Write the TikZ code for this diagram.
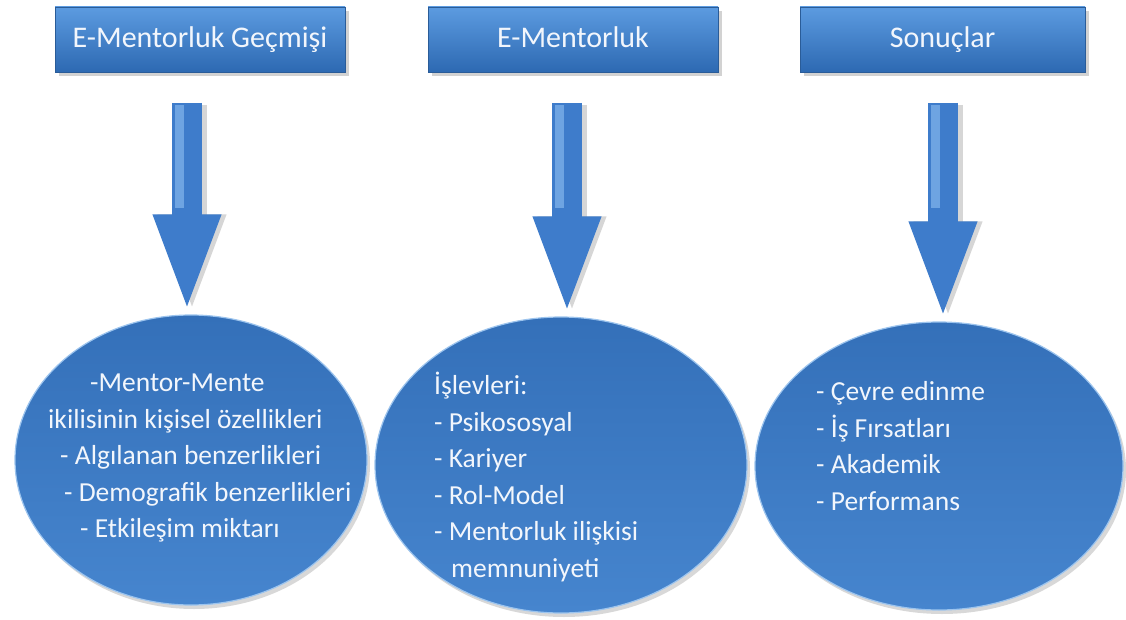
\documentclass[tikz,border=0pt]{standalone}
\usepackage{fontspec}
\setmainfont{Carlito}
\usetikzlibrary{arrows.meta,shadows,shapes.geometric,calc}
\definecolor{boxtop}{HTML}{5C9BE0}
\definecolor{boxbot}{HTML}{2D69B2}
\definecolor{boxline}{HTML}{2A5C98}
\definecolor{elltop}{HTML}{3470B9}
\definecolor{ellbot}{HTML}{4685CE}
\definecolor{ellrim}{HTML}{9CC4EE}
\definecolor{arrowblue}{HTML}{3E7CCB}
\definecolor{arrowlight}{HTML}{6EA4E2}
\definecolor{txt}{HTML}{F2F6FC}
\begin{document}
\begin{tikzpicture}[x=1pt,y=-1pt,
  headbox/.style={rectangle, minimum height=65pt, inner sep=0pt,
    text height=22pt, text depth=6pt,
    top color=boxtop, bottom color=boxbot, draw=boxline, line width=0.8pt,
    drop shadow={shadow xshift=4pt, shadow yshift=-4pt, opacity=0.35},
    text=txt, font=\fontsize{30}{34}\selectfont},
  bubble/.style={ellipse, inner sep=0pt,
    top color=elltop, bottom color=ellbot, draw=ellrim, line width=1.2pt,
    drop shadow={shadow xshift=3pt, shadow yshift=-4pt, opacity=0.3}},
  bubbletext/.style={text=txt, inner sep=0pt, align=left, anchor=west,
    font=\fontsize{27.5}{36.5}\selectfont},
  blockarrow/.style={draw=arrowblue, line width=30pt,
    -{Triangle[width=60pt,length=100pt]}},
  arrowshadow/.style={draw=black!45, opacity=0.35, line width=30pt,
    -{Triangle[width=60pt,length=100pt]}},
  arrowshine/.style={draw=arrowlight, line width=9pt, line cap=butt}
]
\useasboundingbox (0,0) rectangle (1126,620);
\fill[white] (0,0) rectangle (1126,620);

% headings
\node[headbox, minimum width=290pt] (b1) at (200,39.5) {E-Mentorluk Geçmişi};
\node[headbox, minimum width=290pt] (b2) at (573,39.5) {E-Mentorluk};
\node[headbox, minimum width=285pt] (b3) at (942.5,39.5) {Sonuçlar};

% bubbles
\node[bubble, minimum width=352pt, minimum height=290pt] (e1) at (191,460) {};
\node[bubble, minimum width=372pt, minimum height=296pt] (e2) at (561,465) {};
\node[bubble, minimum width=368pt, minimum height=288pt] (e3) at (939,466) {};

\node[bubbletext] (t1) at (48,458)
  {\hspace*{42pt}-Mentor-Mente\\
   ikilisinin kişisel özellikleri\\
   \hspace*{12pt}- Algılanan benzerlikleri\\
   \hspace*{16pt}- Demografik benzerlikleri\\
   \hspace*{32pt}- Etkileşim miktarı};
\node[bubbletext] (t2) at (434,477)
  {İşlevleri:\\- Psikososyal\\- Kariyer\\- Rol-Model\\- Mentorluk ilişkisi\\\hspace*{17pt}memnuniyeti};
\node[bubbletext] (t3) at (816,446)
  {- Çevre edinme\\- İş Fırsatları\\- Akademik\\- Performans};

% block arrows from headings to bubbles
\coordinate (a1) at (187,103);
\coordinate (a2) at (567,103);
\coordinate (a3) at (943,103);
\foreach \a/\e in {a1/e1, a2/e2, a3/e3}{
  \draw[arrowshadow] ($(\a)+(5,2)$) -- ($(\a |- \e.north)+(5,0)$);
  \draw[blockarrow] (\a) -- (\a |- \e.north);
  \draw[arrowshine] ($(\a)+(-8,2)$) -- ($(\a)+(-8,105)$);
}
\end{tikzpicture}
\end{document}
